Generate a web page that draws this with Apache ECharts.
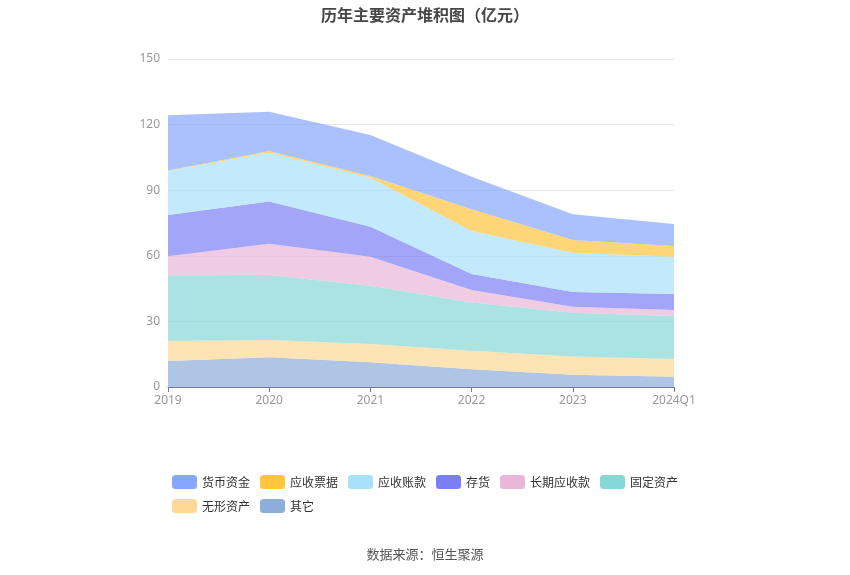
<!DOCTYPE html>
<html>
<head>
<meta charset="utf-8">
<title>历年主要资产堆积图</title>
<script src="https://cdn.jsdelivr.net/npm/echarts@6/dist/echarts.min.js"></script>
<style>
  html, body { margin: 0; padding: 0; background: #fff; }
  #chart { width: 850px; height: 575px; }
</style>
</head>
<body>
<div id="chart"></div>
<script>
// 年份
var years = ['2019', '2020', '2021', '2022', '2023', '2024Q1'];

// 各项资产（亿元）
var cash        = [25.3, 18.0, 18.7, 14.8, 11.8, 10.0]; // 货币资金
var notesRecv   = [0.2, 0.7, 0.8, 10.0, 5.8, 4.9];      // 应收票据
var accRecv     = [20.1, 22.4, 22.4, 19.6, 18.0, 17.1]; // 应收账款
var inventory   = [18.9, 19.3, 13.7, 7.3, 6.7, 7.3];    // 存货
var longRecv    = [8.7, 14.3, 13.3, 5.8, 2.7, 2.7];     // 长期应收款
var fixedAssets = [30.1, 29.7, 26.6, 22.0, 20.1, 19.7]; // 固定资产
var intangible  = [9.1, 7.9, 8.4, 8.5, 8.3, 8.1];       // 无形资产
var others      = [11.9, 13.6, 11.3, 8.1, 5.6, 4.7];    // 其它

var yTicks = [0, 30, 60, 90, 120, 150];

var legendNames = ['货币资金', '应收票据', '应收账款', '存货', '长期应收款', '固定资产', '无形资产', '其它'];

var colors = {
  '货币资金': '#87a7fe',
  '应收票据': '#ffc53d',
  '应收账款': '#a9e1fb',
  '存货': '#7a7ff5',
  '长期应收款': '#e8b6d9',
  '固定资产': '#86d7d6',
  '无形资产': '#fed996',
  '其它': '#8daddb'
};

// 堆叠顺序：自下而上
var stackOrder = [
  ['其它', others],
  ['无形资产', intangible],
  ['固定资产', fixedAssets],
  ['长期应收款', longRecv],
  ['存货', inventory],
  ['应收账款', accRecv],
  ['应收票据', notesRecv],
  ['货币资金', cash]
];

var chart = echarts.init(document.getElementById('chart'));

var series = stackOrder.map(function(item) {
  return {
    name: item[0],
    type: 'line',
    stack: 'total',
    symbol: 'none',
    smooth: false,
    lineStyle: { width: 0 },
    itemStyle: { color: colors[item[0]] },
    areaStyle: { color: colors[item[0]], opacity: 0.7 },
    emphasis: { disabled: true },
    data: item[1]
  };
});

var option = {
  animation: false,
  title: {
    text: '历年主要资产堆积图（亿元）',
    left: 'center',
    top: 2,
    textStyle: {
      fontSize: 16,
      fontWeight: 'bold',
      color: '#464646',
      fontFamily: 'Noto Sans CJK SC'
    }
  },
  legend: {
    data: legendNames,
    left: 167,
    top: 470,
    width: 530,
    itemWidth: 25,
    itemHeight: 14,
    itemGap: 10,
    icon: 'roundRect',
    textStyle: {
      fontSize: 12,
      color: '#333',
      fontFamily: 'Noto Sans CJK SC'
    }
  },
  grid: {
    left: 168,
    right: 176,
    top: 59,
    bottom: 188
  },
  xAxis: {
    type: 'category',
    boundaryGap: false,
    data: years,
    axisLine: { lineStyle: { color: '#6e7a99' } },
    axisTick: { show: true, alignWithLabel: true, lineStyle: { color: '#6e7a99' } },
    axisLabel: { color: '#999', fontSize: 12, margin: 8, fontFamily: 'Noto Sans' }
  },
  yAxis: {
    type: 'value',
    min: yTicks[0],
    max: yTicks[yTicks.length - 1],
    interval: 30,
    axisLine: { show: false },
    axisTick: { show: false },
    axisLabel: { color: '#999', fontSize: 12, margin: 8, fontFamily: 'Noto Sans' },
    splitLine: { lineStyle: { color: '#e3e6ef' } }
  },
  graphic: [{
    type: 'text',
    left: 'center',
    top: 548,
    style: {
      text: '数据来源：恒生聚源',
      fill: '#555',
      fontSize: 13,
      fontFamily: 'Noto Sans CJK SC'
    }
  }],
  series: series
};

chart.setOption(option);
</script>
</body>
</html>
